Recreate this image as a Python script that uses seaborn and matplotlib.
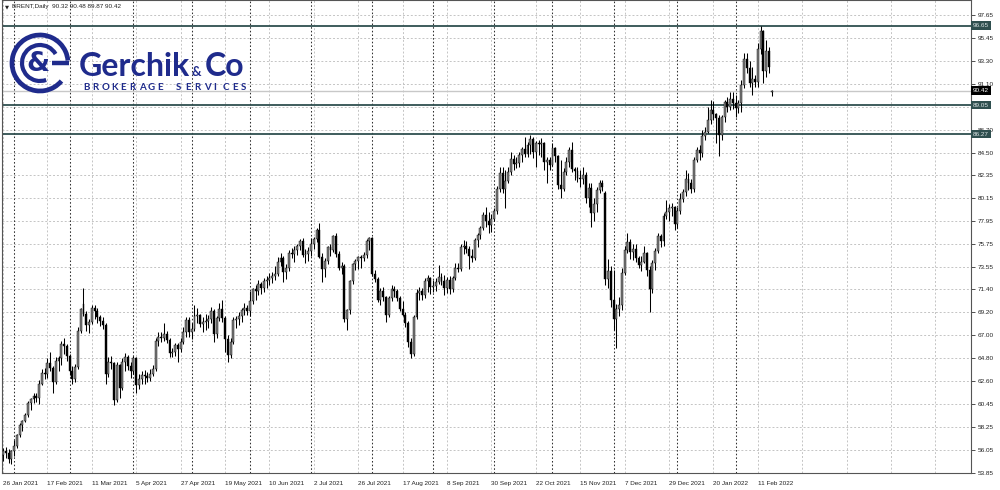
import numpy as np
import pandas as pd
import seaborn as sns
import matplotlib.pyplot as plt
from matplotlib.patches import Arc

# daily BRENT bars, 26 Jan 2021 .. 18 Feb 2022 (one value per bar)
opens = [
    55.6, 55.9, 55.8, 55.2, 55.9, 56.4, 57.5, 58.4, 58.8, 59.4, 60.5, 60.9, 61.2, 61.0, 62.4, 63.4, 63.3, 64.4, 63.9, 62.5,
    64.6, 64.8, 66.2, 66.0, 65.0, 63.6, 62.8, 64.0, 67.4, 70.0, 69.1, 68.0, 68.3, 69.6, 69.3, 68.8, 68.4, 68.0, 63.3, 64.5,
    64.4, 60.8, 64.2, 62.0, 64.5, 64.9, 64.1, 63.6, 64.8, 62.3, 62.8, 63.2, 63.1, 62.9, 63.3, 63.8, 66.5, 66.9, 66.8, 67.1,
    66.6, 65.3, 65.4, 66.1, 65.7, 66.4, 67.3, 68.5, 67.3, 67.6, 68.9, 69.0, 68.1, 68.3, 68.4, 68.6, 69.3, 67.1, 68.7, 69.5,
    68.7, 66.7, 65.1, 66.4, 68.5, 68.6, 68.9, 69.4, 69.6, 69.3, 70.3, 71.4, 71.3, 71.9, 71.5, 72.2, 72.3, 72.5, 72.7, 72.9,
    74.0, 74.4, 73.1, 73.5, 74.9, 74.8, 75.2, 75.6, 76.0, 74.7, 74.8, 75.1, 75.8, 76.2, 77.1, 74.5, 73.4, 74.1, 75.5, 75.2,
    76.5, 74.8, 73.5, 73.6, 68.6, 69.4, 72.2, 73.8, 74.1, 74.5, 74.4, 74.7, 76.0, 76.3, 72.9, 72.4, 70.4, 71.3, 70.7, 69.0,
    70.6, 71.4, 71.3, 70.6, 69.5, 69.0, 68.2, 66.4, 65.2, 68.8, 71.1, 71.3, 70.9, 72.2, 72.5, 71.6, 71.7, 72.1, 72.6, 72.2,
    71.5, 72.3, 71.4, 72.5, 73.5, 73.4, 75.5, 75.6, 75.3, 74.6, 74.4, 76.1, 76.6, 77.3, 78.5, 78.0, 77.6, 78.1, 78.9, 81.0,
    82.5, 81.0, 81.8, 82.6, 83.9, 83.4, 83.5, 84.3, 84.8, 84.4, 85.2, 85.8, 84.6, 85.4, 85.3, 85.4, 83.6, 83.8, 83.3, 84.9,
    84.2, 81.4, 81.0, 82.6, 83.6, 84.7, 82.9, 82.7, 82.1, 82.0, 82.4, 80.2, 81.1, 78.7, 79.6, 80.9, 81.6, 80.6, 72.4, 73.2,
    70.4, 68.6, 69.5, 69.9, 73.0, 75.2, 75.9, 75.0, 75.3, 74.4, 73.7, 74.0, 74.9, 73.3, 71.4, 73.9, 75.1, 76.5, 76.0, 78.4,
    78.8, 79.2, 79.3, 77.7, 78.9, 80.1, 80.7, 82.0, 81.6, 81.0, 83.8, 84.7, 84.5, 86.1, 86.5, 87.6, 88.6, 88.2, 87.8, 86.2,
    87.9, 89.3, 88.9, 89.6, 89.2, 88.8, 89.2, 91.0, 93.5, 92.6, 91.2, 91.5, 91.3, 94.4, 96.1, 92.3, 94.2, 90.32,
]
highs = [
    56.2, 56.3, 56.1, 56.0, 57.0, 57.6, 58.6, 58.9, 59.6, 60.7, 61.0, 61.5, 61.5, 62.7, 63.8, 63.9, 64.8, 65.4, 64.1, 64.9,
    65.0, 66.5, 66.8, 66.2, 65.2, 64.1, 64.3, 67.8, 69.6, 71.5, 69.3, 68.6, 69.9, 69.9, 69.6, 69.0, 68.8, 68.2, 64.9, 65.0,
    64.5, 64.5, 64.3, 64.8, 65.3, 65.1, 64.5, 65.0, 64.9, 63.3, 63.6, 63.7, 63.5, 63.8, 64.2, 66.8, 67.3, 67.3, 68.2, 67.4,
    66.8, 65.8, 66.3, 66.3, 66.8, 67.8, 68.8, 68.8, 68.2, 69.9, 69.6, 69.1, 68.8, 69.1, 69.0, 69.7, 69.5, 68.9, 70.1, 70.4,
    68.9, 67.0, 66.8, 68.8, 68.9, 69.2, 69.6, 70.1, 69.9, 71.3, 71.5, 71.8, 72.3, 72.1, 72.5, 72.7, 73.0, 73.1, 73.6, 74.5,
    74.9, 74.6, 73.8, 75.2, 75.4, 75.6, 75.8, 76.2, 76.3, 75.3, 75.5, 76.3, 76.4, 77.3, 77.8, 74.9, 74.4, 75.6, 75.8, 76.6,
    76.8, 75.1, 74.0, 73.8, 69.5, 72.3, 73.9, 74.3, 74.6, 74.7, 75.0, 76.2, 76.4, 76.4, 73.3, 72.6, 71.5, 71.6, 70.8, 70.8,
    71.8, 71.7, 71.4, 70.8, 70.3, 69.2, 68.4, 66.8, 69.0, 71.4, 71.6, 71.5, 72.5, 72.8, 72.6, 72.3, 72.5, 73.7, 73.0, 72.8,
    72.6, 72.7, 72.7, 73.9, 73.9, 75.8, 76.1, 76.0, 75.6, 75.3, 76.3, 76.8, 77.5, 78.8, 79.3, 78.8, 78.6, 79.2, 81.3, 83.1,
    83.1, 82.8, 83.1, 84.6, 84.3, 84.1, 84.6, 85.0, 86.0, 85.5, 86.2, 86.0, 85.6, 85.7, 85.9, 85.5, 84.1, 84.1, 85.4, 85.0,
    84.3, 83.8, 83.0, 84.1, 85.0, 85.5, 83.1, 83.1, 82.8, 83.1, 82.6, 81.6, 81.6, 80.2, 81.2, 81.9, 81.9, 80.8, 74.3, 73.6,
    73.3, 70.0, 70.7, 73.5, 75.6, 76.8, 76.2, 75.8, 75.8, 74.6, 74.6, 75.6, 75.0, 73.6, 74.2, 75.4, 76.8, 76.7, 78.7, 80.0,
    79.6, 79.7, 79.4, 79.3, 80.6, 81.0, 82.8, 82.5, 82.0, 84.1, 85.0, 85.2, 86.7, 86.9, 88.9, 89.5, 89.4, 88.3, 88.1, 88.1,
    89.5, 89.8, 90.3, 90.3, 90.0, 89.5, 91.4, 94.0, 94.0, 93.3, 92.7, 91.9, 95.0, 96.65, 96.2, 95.3, 94.6, 90.48,
]
lows = [
    55.0, 55.3, 54.8, 54.7, 55.5, 56.2, 57.3, 57.9, 58.7, 59.2, 59.9, 60.5, 60.6, 60.4, 62.3, 62.8, 62.9, 63.6, 61.5, 62.4,
    63.6, 64.2, 65.2, 64.6, 63.2, 62.4, 62.5, 63.8, 67.2, 68.9, 67.4, 67.2, 68.1, 68.6, 68.2, 67.9, 67.6, 62.4, 63.0, 63.8,
    60.3, 60.6, 61.0, 61.8, 63.6, 63.7, 62.9, 63.3, 61.5, 61.9, 62.4, 62.4, 62.5, 62.6, 63.1, 63.6, 66.0, 66.4, 66.5, 66.3,
    64.9, 64.9, 65.0, 64.5, 65.4, 66.2, 66.9, 66.9, 66.7, 67.4, 68.2, 67.8, 67.3, 67.5, 67.7, 68.2, 66.4, 66.8, 68.4, 68.3,
    65.4, 64.5, 64.8, 66.2, 67.7, 68.0, 68.3, 69.0, 69.0, 68.9, 70.0, 70.4, 70.9, 71.0, 71.2, 71.5, 71.8, 72.0, 72.3, 72.7,
    73.6, 72.1, 72.4, 73.2, 74.4, 74.0, 74.7, 75.2, 74.5, 73.9, 74.1, 74.6, 75.3, 75.9, 74.4, 72.1, 72.6, 73.8, 74.6, 75.0,
    74.5, 73.3, 72.9, 68.3, 67.5, 69.1, 71.9, 73.3, 73.4, 73.5, 74.1, 74.4, 75.2, 72.7, 72.1, 70.2, 69.9, 70.3, 68.3, 68.8,
    70.3, 70.7, 70.3, 69.3, 68.9, 67.8, 65.9, 64.8, 65.0, 68.6, 70.4, 70.4, 70.6, 71.2, 71.0, 71.2, 71.3, 71.9, 71.8, 70.9,
    71.1, 71.0, 71.2, 72.3, 73.1, 73.2, 74.8, 74.9, 73.4, 74.0, 74.2, 75.5, 76.2, 77.1, 77.4, 76.8, 76.9, 78.0, 78.6, 80.7,
    80.6, 79.2, 81.6, 82.4, 82.8, 83.0, 83.1, 83.6, 84.1, 84.1, 84.4, 84.0, 83.1, 84.3, 84.1, 82.8, 81.6, 82.8, 83.2, 83.6,
    81.0, 80.2, 80.8, 82.4, 83.1, 82.6, 81.9, 81.7, 81.2, 81.5, 79.7, 79.3, 77.4, 78.0, 78.8, 80.6, 80.8, 71.8, 71.5, 69.7,
    67.5, 65.8, 68.9, 69.4, 72.8, 74.9, 74.3, 74.2, 74.0, 73.5, 73.2, 73.9, 72.7, 69.2, 71.1, 73.3, 74.9, 75.5, 75.6, 78.1,
    78.0, 78.4, 77.1, 77.3, 78.6, 79.8, 80.3, 80.9, 80.6, 80.7, 83.6, 83.8, 84.1, 85.7, 86.4, 87.2, 87.6, 85.4, 84.2, 85.7,
    87.4, 88.4, 88.6, 88.7, 87.9, 88.3, 88.4, 90.7, 92.1, 90.8, 90.0, 90.8, 90.8, 93.9, 91.2, 91.7, 92.1, 89.87,
]
closes = [
    55.9, 55.8, 55.2, 55.9, 56.4, 57.5, 58.4, 58.8, 59.4, 60.5, 60.9, 61.2, 61.0, 62.4, 63.4, 63.3, 64.4, 63.9, 62.5, 64.6,
    64.8, 66.2, 66.0, 65.0, 63.6, 62.8, 64.0, 67.4, 69.5, 69.1, 68.0, 68.3, 69.6, 69.3, 68.8, 68.4, 68.0, 63.3, 64.5, 64.4,
    60.8, 64.2, 62.0, 64.5, 64.9, 64.1, 63.6, 64.8, 62.3, 62.8, 63.2, 63.1, 62.9, 63.3, 63.8, 66.5, 66.9, 66.8, 67.1, 66.6,
    65.3, 65.4, 66.1, 65.7, 66.4, 67.3, 68.5, 67.3, 67.6, 68.9, 69.0, 68.1, 68.3, 68.4, 68.6, 69.3, 67.1, 68.7, 69.5, 68.7,
    66.7, 65.1, 66.4, 68.5, 68.6, 68.9, 69.4, 69.6, 69.3, 70.3, 71.4, 71.3, 71.9, 71.5, 72.2, 72.3, 72.5, 72.7, 72.9, 74.0,
    74.4, 73.1, 73.5, 74.9, 74.8, 75.2, 75.6, 76.0, 74.7, 74.8, 75.1, 75.8, 76.2, 77.1, 74.5, 73.4, 74.1, 75.5, 75.2, 76.5,
    74.8, 73.5, 73.6, 68.6, 69.4, 72.2, 73.8, 74.1, 74.5, 74.4, 74.7, 76.0, 76.3, 72.9, 72.4, 70.4, 71.3, 70.7, 69.0, 70.6,
    71.4, 71.3, 70.6, 69.5, 69.0, 68.2, 66.4, 65.2, 68.8, 71.1, 71.3, 70.9, 72.2, 72.5, 71.6, 71.7, 72.1, 72.6, 72.2, 71.5,
    72.3, 71.4, 72.5, 73.5, 73.4, 75.5, 75.6, 75.3, 74.6, 74.4, 76.1, 76.6, 77.3, 78.5, 78.0, 77.6, 78.1, 78.9, 81.0, 82.5,
    81.0, 81.8, 82.6, 83.9, 83.4, 83.5, 84.3, 84.8, 84.4, 85.2, 85.8, 84.6, 85.4, 85.3, 85.4, 83.6, 83.8, 83.3, 84.9, 84.2,
    81.4, 81.0, 82.6, 83.6, 84.7, 82.9, 82.7, 82.1, 82.0, 82.4, 80.2, 81.1, 78.7, 79.6, 80.9, 81.6, 81.2, 72.4, 73.2, 70.4,
    68.6, 69.5, 69.9, 73.0, 75.2, 75.9, 75.0, 75.3, 74.4, 73.7, 74.0, 74.9, 73.3, 71.4, 73.9, 75.1, 76.5, 76.0, 78.4, 78.8,
    79.2, 79.3, 77.7, 78.9, 80.1, 80.7, 82.0, 81.6, 81.0, 83.8, 84.7, 84.5, 86.1, 86.5, 87.6, 88.6, 88.2, 87.8, 86.2, 87.9,
    89.3, 88.9, 89.6, 89.2, 88.8, 89.2, 91.0, 93.5, 92.6, 91.2, 91.5, 91.3, 94.4, 96.1, 92.3, 94.2, 92.7, 90.42,
]

date_labels = ["26 Jan 2021", "17 Feb 2021", "11 Mar 2021", "5 Apr 2021", "27 Apr 2021", "19 May 2021",
               "10 Jun 2021", "2 Jul 2021", "26 Jul 2021", "17 Aug 2021", "8 Sep 2021", "30 Sep 2021",
               "22 Oct 2021", "15 Nov 2021", "7 Dec 2021", "29 Dec 2021", "20 Jan 2022", "11 Feb 2022"]
price_ticks = [97.65, 95.45, 93.30, 91.10, 88.90, 86.70, 84.50, 82.35, 80.15, 77.95, 75.75,
               73.55, 71.40, 69.20, 67.00, 64.80, 62.60, 60.45, 58.25, 56.05, 53.85]
month_starts = [4, 24, 47, 68, 89, 111, 133, 155, 177, 198, 220, 243, 264]
levels = [96.65, 89.05, 86.27]
last_price = 90.42
header = "BRENT,Daily  90.32 90.48 89.87 90.42"

NAVY = "#1f2b8c"
SLATE = "#2f4f4f"
GRID = "#c4c4c4"
FS = 4.6

sns.set_theme(style="white")
plt.rcParams["font.family"] = ["Liberation Sans", "DejaVu Sans"]

df = pd.DataFrame({"bar": np.arange(len(closes)), "open": opens, "high": highs,
                   "low": lows, "close": closes})
df["up"] = df["close"] >= df["open"]
df["body_lo"] = df[["open", "close"]].min(axis=1)
df["body_h"] = (df["close"] - df["open"]).abs().clip(lower=0.06)

fig = plt.figure(figsize=(10, 4.9), dpi=100)
ax = fig.add_axes([0.002, 17 / 490, 0.969, 473 / 490])
ax.set_xlim(-0.36, 348.8)
ax.set_ylim(53.84, 99.10)

# grid
for p in price_ticks:
    ax.axhline(p, color=GRID, lw=0.7, ls=(0, (2, 2)), zorder=0)
for b in range(0, 340, 16):
    ax.axvline(b, color=GRID, lw=0.7, ls=(0, (2, 2)), zorder=0)
for b in month_starts:
    ax.axvline(b, color="#303030", lw=0.75, ls=(0, (1.5, 2)), zorder=0.5)

ax.axhline(last_price, color="#c8c8c8", lw=1.0, zorder=0.6)
for lv in levels:
    ax.axhline(lv, color=SLATE, lw=1.3, zorder=1)

# candles
for up, fill in [(True, "#808080"), (False, "#000000")]:
    d = df[df["up"] == up]
    ax.vlines(d["bar"], d["low"], d["high"], color="#000000", lw=0.75, zorder=2)
    ax.bar(d["bar"], d["body_h"], bottom=d["body_lo"], width=0.7, color=fill,
           edgecolor="#000000", linewidth=0.3, zorder=3)

# axes styling
ax.yaxis.tick_right()
ax.set_yticks(price_ticks)
ax.set_yticklabels(["" if p == 88.90 else f"{p:.2f}" for p in price_ticks])
ax.set_xticks(range(0, 16 * len(date_labels), 16))
ax.set_xticklabels(date_labels, ha="left")
ax.tick_params(axis="y", length=3, width=0.6, color="#333333", labelsize=FS, pad=2, labelcolor="#222222")
ax.tick_params(axis="x", length=3, width=0.6, color="#333333", labelsize=FS, pad=2.5, labelcolor="#222222")
for s in ["left", "bottom", "right", "top"]:
    ax.spines[s].set_color("#555555")
    ax.spines[s].set_linewidth(0.8)
ax.grid(False)

trans = ax.get_yaxis_transform()
for val, fc, tc in [(96.65, SLATE, "#d8e2e2"), (89.05, SLATE, "#d8e2e2"),
                    (86.27, SLATE, "#d8e2e2"), (last_price, "#000000", "#ffffff")]:
    ax.text(1.002, val, f"{val:.2f}", transform=trans, fontsize=FS, color=tc, va="center",
            ha="left", clip_on=False, zorder=10,
            bbox=dict(boxstyle="square,pad=0.3", fc=fc, ec="none"))

fig.text(0.005, 1 - 6.5 / 490, "\u25bc", fontsize=3.8, va="center", ha="left", color="#222222",
         fontfamily="DejaVu Sans")
fig.text(0.012, 1 - 6.5 / 490, header, fontsize=FS, va="center", ha="left", color="#222222")

# logo
lax = fig.add_axes([0, 0, 1, 1], zorder=5)
lax.set_xlim(0, 1000)
lax.set_ylim(490, 0)
lax.axis("off")
lax.patch.set_alpha(0)
lax.add_patch(Arc((40, 63), 56, 56, theta1=40, theta2=355, lw=3.4, color=NAVY))
lax.add_patch(Arc((40, 63), 36, 36, theta1=70, theta2=330, lw=3.0, color=NAVY))
lax.plot([52, 69], [63, 63], color=NAVY, lw=3.2, solid_capstyle="butt")
lax.text(38, 64, "&", fontsize=19, color=NAVY, ha="center", va="center",
         fontfamily="DejaVu Sans", fontweight="bold")
lax.text(79, 76, "Gerchik", fontsize=23, color=NAVY, ha="left", va="baseline",
         fontfamily="Lato", fontweight="bold")
lax.text(191, 76, "&", fontsize=9.5, color=NAVY, ha="left", va="baseline",
         fontfamily="Lato", fontweight="bold")
lax.text(205, 76, "Co", fontsize=23, color=NAVY, ha="left", va="baseline",
         fontfamily="Lato", fontweight="bold")
tag = "BROKERAGE SERVICES"
for k, ch in enumerate(tag):
    lax.text(83 + k * 9.3, 87.5, ch, fontsize=7.0, color=NAVY, ha="left", va="center",
             fontfamily="Lato", fontweight="bold")

fig.savefig("out.png", dpi=100, facecolor="white")
